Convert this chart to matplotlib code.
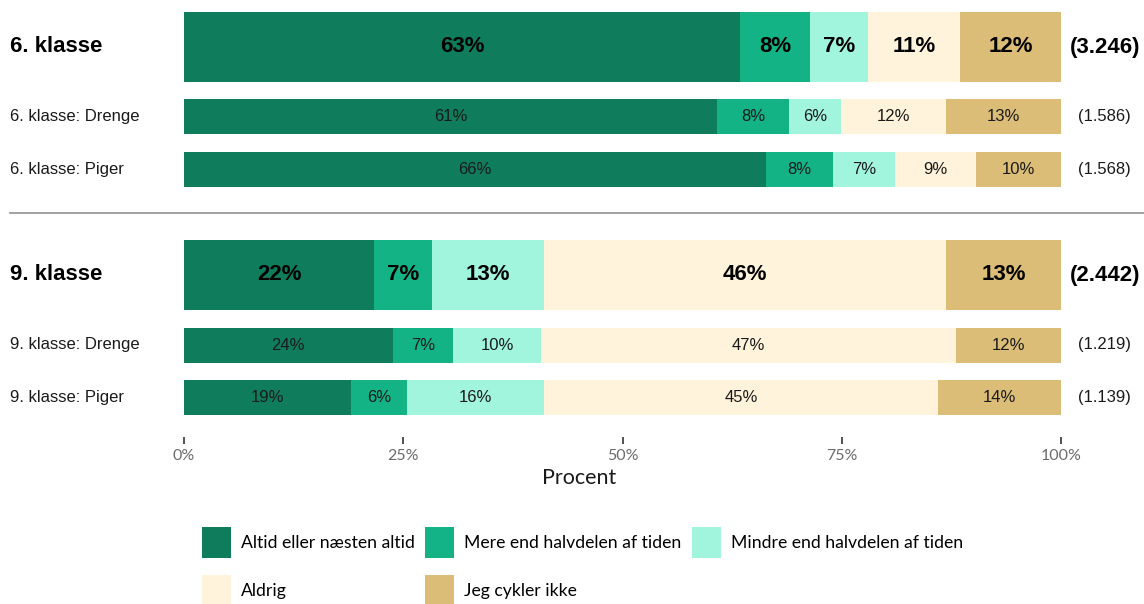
import numpy as np
import matplotlib
matplotlib.use('Agg')
import matplotlib.pyplot as plt
from matplotlib.lines import Line2D
from matplotlib.patches import Patch
from matplotlib import transforms

# ── Data ──────────────────────────────────────────────────────────
rækker = ['6. klasse', '6. klasse: Drenge', '6. klasse: Piger',
          '9. klasse', '9. klasse: Drenge', '9. klasse: Piger']
er_total = [True, False, False, True, False, False]
antal = ['(3.246)', '(1.586)', '(1.568)', '(2.442)', '(1.219)', '(1.139)']

kategorier = ['Altid eller næsten altid', 'Mere end halvdelen af tiden',
              'Mindre end halvdelen af tiden', 'Aldrig', 'Jeg cykler ikke']

altid  = [63.4, 60.8, 66.4, 21.7, 23.8, 19.0]
mere   = [8.0, 8.2, 7.6, 6.6, 6.9, 6.4]
mindre = [6.6, 5.9, 7.1, 12.7, 10.0, 15.7]
aldrig = [10.5, 12.0, 9.2, 45.9, 47.3, 44.9]
ikke   = [11.5, 13.1, 9.7, 13.1, 12.0, 14.0]

# ── Stil ──────────────────────────────────────────────────────────
farver = ['#0f7d5c', '#13b386', '#a2f5dd', '#fff4db', '#dbbd77']
_FONT_BAR = 'Liberation Sans'
_FONT_AXE = 'Lato'

# layout (pixel-lignende enheder, y nedad)
y_centre = [47, 116.5, 169.5, 275, 345, 397.5]
højder   = [70, 35, 35, 70, 35, 35]

fig = plt.figure(figsize=(11.44, 6.04), dpi=100)
ax = fig.add_axes([184 / 1144, 1 - 437 / 604, 877 / 1144, 437 / 604])
ax.set_xlim(0, 100)
ax.set_ylim(437, 0)

serier = [altid, mere, mindre, aldrig, ikke]
venstre = np.zeros(len(rækker))
for k, (vals, farve) in enumerate(zip(serier, farver)):
    vals = np.array(vals)
    ax.barh(y_centre, vals, left=venstre, height=højder, color=farve,
            edgecolor='none', linewidth=0)
    for i, v in enumerate(vals):
        fed = er_total[i]
        ax.text(venstre[i] + v / 2, y_centre[i], f'{int(v + 0.5)}%',
                ha='center', va='center', family=_FONT_BAR,
                fontsize=16 if fed else 12,
                fontweight='bold' if fed else 'normal',
                color='black' if fed else '#1a1a1a')
    venstre += vals

# rækkenavne og antal
blend = transforms.blended_transform_factory(fig.transFigure, ax.transData)
for i, navn in enumerate(rækker):
    fed = er_total[i]
    ax.text(10 / 1144, y_centre[i], navn, transform=blend, ha='left', va='center',
            family=_FONT_BAR, fontsize=16 if fed else 12,
            fontweight='bold' if fed else 'normal',
            color='black' if fed else '#1a1a1a')
    ax.text(105, y_centre[i], antal[i], ha='center', va='center',
            family=_FONT_BAR, fontsize=16 if fed else 12,
            fontweight='bold' if fed else 'normal',
            color='black' if fed else '#1a1a1a', clip_on=False)

# skillelinje mellem klassetrin
fig.add_artist(Line2D([10 / 1144, 1], [1 - 213 / 604, 1 - 213 / 604],
                      color='#9a9a9a', lw=1.3))

# akser
for side in ['top', 'right', 'left', 'bottom']:
    ax.spines[side].set_visible(False)
ax.set_yticks([])
ax.set_xticks([0, 25, 50, 75, 100])
ax.set_xticklabels(['0%', '25%', '50%', '75%', '100%'],
                   family=_FONT_AXE, fontsize=11.5, color='#6b6b6b')
ax.tick_params(axis='x', length=5, width=1.1, color='#222222', pad=4)
ax.set_xlabel('Procent', family=_FONT_AXE, fontsize=15.5, color='#1a1a1a')
ax.xaxis.set_label_coords((579 - 184) / 877, -0.072)

# legende (kolonnevis rækkefølge så rækkerne matcher)
handles = [Patch(facecolor=f, edgecolor='none') for f in farver]
orden = [0, 3, 1, 4, 2]
fig.legend([handles[i] for i in orden], [kategorier[i] for i in orden],
           ncol=3, loc='upper left', bbox_to_anchor=(202 / 1144, 1 - 527 / 604),
           frameon=False, prop={'family': _FONT_AXE, 'size': 12.7},
           handlelength=1.65, handleheight=2.37, handletextpad=0.55,
           columnspacing=0.6, labelspacing=0.95, borderaxespad=0,
           borderpad=0)

fig.savefig('out.png', dpi=100, facecolor='white')
